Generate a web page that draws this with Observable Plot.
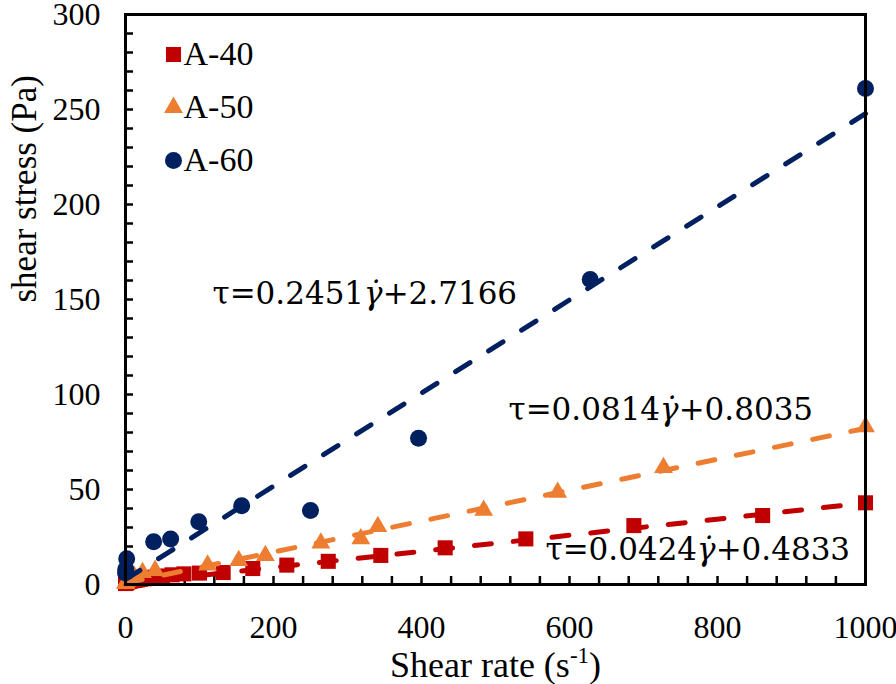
<!DOCTYPE html>
<html><head><meta charset="utf-8">
<script src="https://cdn.jsdelivr.net/npm/d3@7"></script>
<script src="https://cdn.jsdelivr.net/npm/@observablehq/plot@0.6"></script>
<style>body{margin:0;background:#fff}#chart{width:896px;height:684px}</style>
</head><body><div id="chart"></div>
<script>
// ---- data ----
const seriesNames = ["A-40", "A-50", "A-60"];
const seriesColors = ["#C00000", "#ED7D31", "#002060"];
const seriesSymbols = ["square", "triangle", "circle"];

const a40Rate = [0.1, 0.16, 0.25, 0.4, 0.63, 1, 1.6, 2.5, 4, 6.3, 10, 13, 16, 20, 25, 32, 40, 50, 63, 79, 100, 132, 172, 218, 274, 345, 432, 541, 687, 861, 1000];
const a40Stress = [0.5, 0.6, 0.7, 0.8, 0.9, 1.0, 1.1, 1.3, 1.5, 1.7, 2.0, 2.2, 2.4, 2.7, 3.0, 3.4, 3.9, 4.5, 5.1, 5.6, 6.0, 6.3, 8.4, 10.2, 12.2, 15.3, 19.3, 24.0, 31.0, 36.3, 43.0];

const a50Rate = [0.1, 0.5, 2, 6, 12, 23, 40, 111, 153, 189, 264, 318, 341, 484, 584, 727, 1000];
const a50Stress = [0.5, 1.0, 1.8, 2.8, 4.2, 6.3, 7.4, 10.2, 12.6, 15.2, 21.8, 24.0, 30.5, 39.0, 48.5, 61.5, 83.0];

const a60Rate = [0.1, 0.4, 1.6, 38, 61, 99, 157, 250, 396, 628, 1000];
const a60Stress = [6.0, 8.0, 13.5, 22.5, 24.0, 33.0, 41.5, 39.0, 77.0, 160.5, 261.0];

const slopes = [0.0424, 0.0814, 0.2451];
const intercepts = [0.4833, 0.8035, 2.7166];
const equationLabels = ["τ=0.0424γ̇+0.4833", "τ=0.0814γ̇+0.8035", "τ=0.2451γ̇+2.7166"];

const xTickLabels = [0, 200, 400, 600, 800, 1000];
const yTickLabels = [0, 50, 100, 150, 200, 250, 300];
const xTickMarks = d3.range(0, 1001, 40);
const yTickMarks = d3.range(0, 301, 10);
const fitRange = [0, 1000];

const xTitle = "Shear rate (s-1)";
const yTitle = "shear stress (Pa)";

// ---- build tables ----
const rates = [a40Rate, a50Rate, a60Rate];
const stresses = [a40Stress, a50Stress, a60Stress];
const seriesRows = rates.map((xs, i) => xs.map((x, j) => ({series: seriesNames[i], x, y: stresses[i][j]})));
const fitRows = slopes.map((m, i) => fitRange.map(x => ({series: seriesNames[i], x, y: m * x + intercepts[i]})));

// ---- layout ----
const W = 896, H = 684, mL = 125, mR = 31, mT = 14, mB = 100;
const innerW = W - mL - mR, innerH = H - mT - mB;
const serif = "'Liberation Serif', 'Times New Roman', serif";
const eqFont = "'DejaVu Serif', serif";
const markerR = [8.5, 7, 8.5];

const marks = [];
marks.push(Plot.tickY(yTickMarks, {y: d => d, insetRight: innerW - 8, stroke: "black", strokeWidth: 2.5}));
marks.push(Plot.tickX(xTickMarks, {x: d => d, insetTop: innerH - 8, stroke: "black", strokeWidth: 2.5}));
marks.push(Plot.axisY(yTickLabels, {tickSize: 0, tickPadding: 25, fontSize: 32, tickFormat: d => String(d), label: null}));
marks.push(Plot.axisX(xTickLabels, {tickSize: 0, tickPadding: 31, fontSize: 32, tickFormat: d => String(d), label: null}));

seriesRows.forEach((rows, i) => {
  marks.push(Plot.dot(rows, {x: "x", y: "y", symbol: seriesSymbols[i], fill: seriesColors[i], stroke: "none", r: markerR[i]}));
});
fitRows.forEach((rows, i) => {
  marks.push(Plot.line(rows, {x: "x", y: "y", stroke: seriesColors[i], strokeWidth: 5, strokeDasharray: "17,22", strokeLinecap: "round"}));
});
marks.push(Plot.frame({stroke: "black", strokeWidth: 3}));

// legend
seriesNames.forEach((name, i) => {
  marks.push(Plot.dot([name], {frameAnchor: "top-left", dx: 48, dy: 40 + i * 53, symbol: seriesSymbols[i], fill: seriesColors[i], r: markerR[i]}));
  marks.push(Plot.text([name], {frameAnchor: "top-left", dx: 58, dy: 40 + i * 53, text: d => d, textAnchor: "start", lineAnchor: "middle", fontSize: 34, fill: "black"}));
});

// equations
const eqPos = [[420, 536], [383, 396], [87, 280]];
equationLabels.forEach((label, i) => {
  marks.push(Plot.text([label], {frameAnchor: "top-left", dx: eqPos[i][0], dy: eqPos[i][1], text: d => d, textAnchor: "start", lineAnchor: "middle", fontSize: 31, fill: "black"}));
});

// titles
marks.push(Plot.text([yTitle], {frameAnchor: "left", rotate: -90, dx: -101, dy: 3, text: d => d, lineAnchor: "middle", fontSize: 35, fill: "black"}));
marks.push(Plot.text([xTitle], {frameAnchor: "bottom", dy: 81, text: d => d, lineAnchor: "middle", fontSize: 36, fill: "black"}));

const svg = Plot.plot({
  width: W, height: H,
  marginLeft: mL, marginRight: mR, marginTop: mT, marginBottom: mB,
  x: {domain: [0, 1000]},
  y: {domain: [0, 300]},
  style: {background: "white", color: "black", fontFamily: serif},
  marks
});
document.getElementById("chart").appendChild(svg);

// fonts + rich text: italic gamma-dot in equations, superscript in x title
d3.select(svg).selectAll("text").each(function() {
  const t = this.textContent;
  const sel = d3.select(this);
  sel.style("font-family", serif);
  if (t.includes("γ̇")) {
    const [pre, post] = t.split("γ̇");
    sel.style("font-family", eqFont);
    sel.text(null);
    sel.append("tspan").text(pre);
    sel.append("tspan").attr("font-style", "italic").text("γ̇");
    sel.append("tspan").text(post);
  } else if (t === xTitle) {
    sel.text(null);
    sel.append("tspan").text("Shear rate (s");
    sel.append("tspan").attr("font-size", 23).attr("dy", -14).text("-1");
    sel.append("tspan").attr("dy", 14).text(")");
  }
});
</script>
</body></html>
